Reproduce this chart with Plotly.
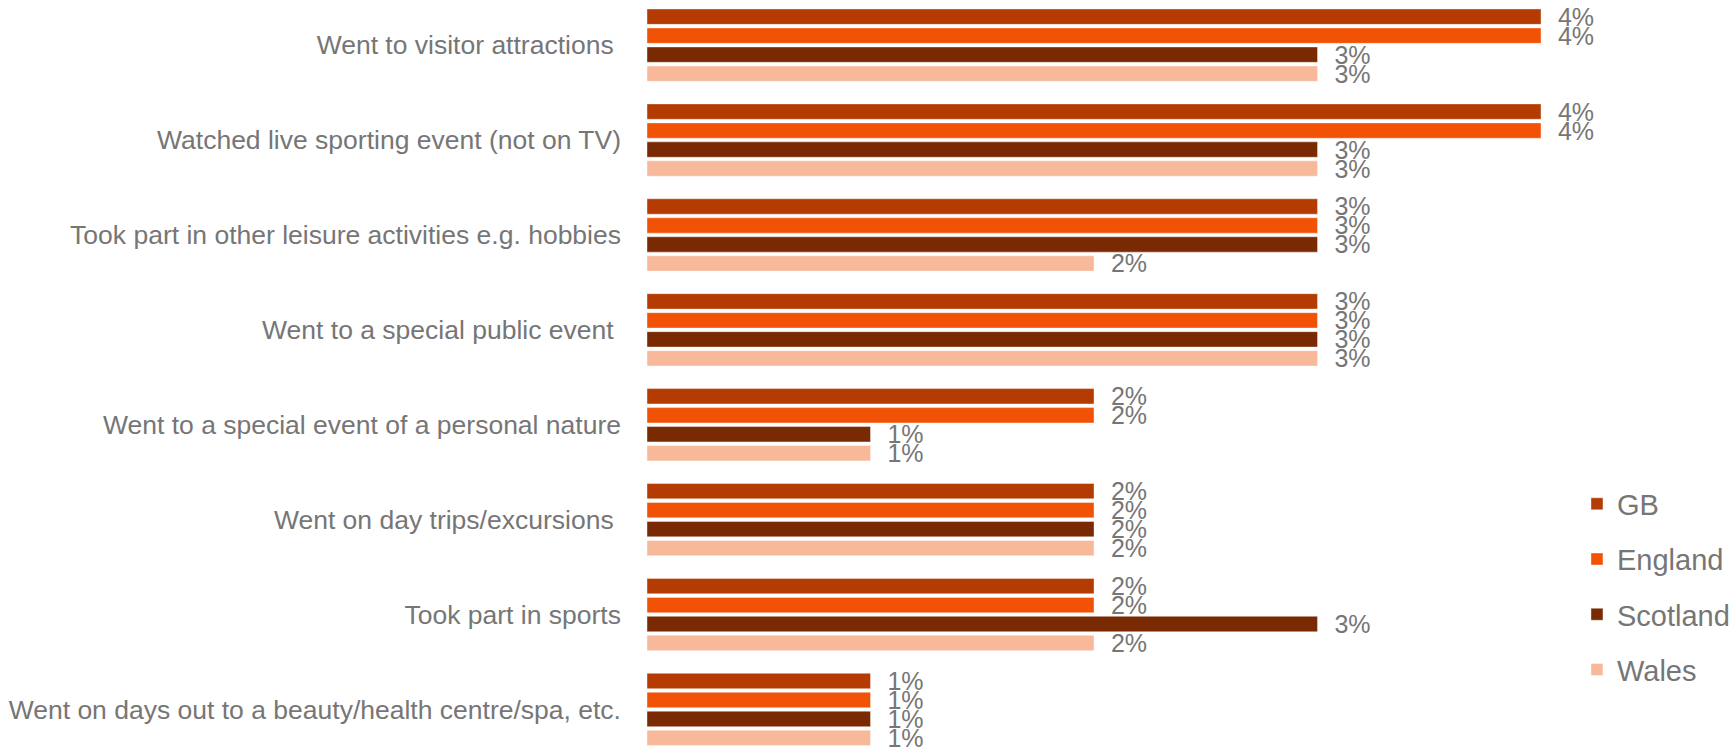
import plotly.graph_objects as go

categories = [
    "Went to visitor attractions\u00a0",
    "Watched live sporting event (not on TV)",
    "Took part in other leisure activities e.g. hobbies",
    "Went to a special public event\u00a0",
    "Went to a special event of a personal nature",
    "Went on day trips/excursions\u00a0",
    "Took part in sports",
    "Went on days out to a beauty/health centre/spa, etc.",
]
gb = [4, 4, 3, 3, 2, 2, 2, 1]
england = [4, 4, 3, 3, 2, 2, 2, 1]
scotland = [3, 3, 3, 3, 1, 2, 3, 1]
wales = [3, 3, 2, 3, 1, 2, 2, 1]

series = [
    ("GB", gb, "#B43C02"),
    ("England", england, "#F25206"),
    ("Scotland", scotland, "#792A02"),
    ("Wales", wales, "#F8B99A"),
]

TXT = "#767676"
FONT = "Liberation Sans, Arial, sans-serif"

fig = go.Figure()
for name, vals, col in series:
    fig.add_trace(go.Bar(
        name=name, y=categories, x=vals, orientation="h",
        marker=dict(color=col, line=dict(color="rgba(255,255,255,0.5)", width=0.8)),
        text=vals, texttemplate="\u00a0\u00a0%{x}%", textposition="outside",
        textfont=dict(family=FONT, size=25, color=TXT),
        constraintext="none", cliponaxis=False,
        legendgroup=name,
    ))

fig.update_layout(
    width=1729, height=749,
    margin=dict(l=647, r=0, t=0, b=0, autoexpand=False),
    paper_bgcolor="white", plot_bgcolor="white",
    barmode="group", bargap=0.2, bargroupgap=0.19,
    font=dict(family=FONT, color=TXT),
    showlegend=True,
    legend=dict(
        x=0.8595, xanchor="left", y=0.2163, yanchor="middle",
        font=dict(family=FONT, size=29, color=TXT),
        traceorder="grouped", tracegroupgap=14.5, itemwidth=30,
        bgcolor="rgba(0,0,0,0)",
    ),
)
fig.update_xaxes(range=[0, 4.841], visible=False, showgrid=False, zeroline=False)
fig.update_yaxes(
    type="category", range=[7.4167, -0.4758], showgrid=False, zeroline=False,
    showline=False, ticks="", ticklabelstandoff=25, automargin=False,
    tickfont=dict(family=FONT, size=26.5, color=TXT),
)

fig.write_html(
    "out.html",
    config={"displayModeBar": False},
    post_script="document.body.style.margin='0';document.body.style.overflow='hidden';",
)
